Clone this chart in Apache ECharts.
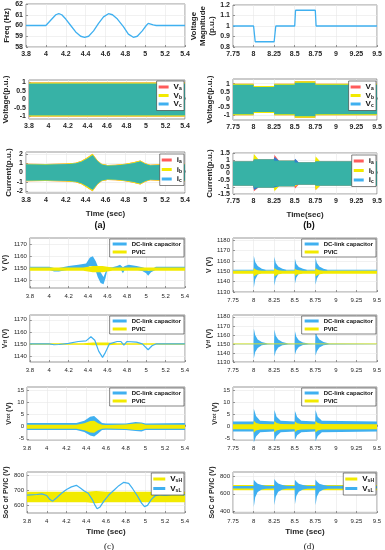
<!DOCTYPE html>
<html><head><meta charset="utf-8">
<script src="https://cdn.jsdelivr.net/npm/echarts@6/dist/echarts.min.js"></script>
<style>html,body{margin:0;padding:0;background:#fff}#c{width:385px;height:550px}</style>
</head><body><div id="c"></div><script>
// ---------- tick labels ----------
const A_X = [3.8, 4, 4.2, 4.4, 4.6, 4.8, 5, 5.2, 5.4];
const B_X = [7.75, 8, 8.25, 8.5, 8.75, 9, 9.25, 9.5];
const Y_FREQ = [58, 59, 60, 61, 62];
const Y_VMAG = [0.8, 0.9, 1, 1.1, 1.2];
const Y_VPU = [-1, -0.5, 0, 0.5, 1];
const Y_IA = [-2, -1, 0, 1, 2];
const Y_IB = [-1.5, -1, -0.5, 0, 0.5, 1, 1.5];
const Y_VC = [1140, 1150, 1160, 1170];
const Y_VD = [1130, 1140, 1150, 1160, 1170, 1180];
const Y_VTOT = [-5, 0, 5, 10, 15];
const Y_SOC_C = [600, 700, 800];
const Y_SOC_D = [400, 600, 800];

// ---------- (a) frequency ----------
const freqT = [3.8, 4.0, 4.02, 4.06, 4.1, 4.13, 4.16, 4.2, 4.25, 4.3, 4.35, 4.39, 4.43, 4.48, 4.53, 4.58, 4.63, 4.67, 4.72, 4.78, 4.83, 4.88, 4.92, 4.97, 5.01, 5.03, 5.05, 5.08, 5.11, 5.4];
const freqV = [60, 60, 60.1, 60.6, 61.0, 61.1, 61.0, 60.6, 60.0, 59.4, 59.0, 58.9, 59.0, 59.5, 60.2, 60.8, 61.1, 61.0, 60.6, 59.9, 59.2, 58.9, 59.0, 59.5, 60.0, 60.2, 60.15, 60.05, 60.0, 60.0];
// (a) three-phase voltage envelope
const vaT = [3.8, 5.4];
const vaUp = [1.0, 1.0];
const vaLo = [-1.0, -1.0];
const vaMixUp = [0.93, 0.93];
const vaMixLo = [-0.93, -0.93];
// (a) three-phase current envelope
const iaT = [3.8, 4.0, 4.2, 4.3, 4.36, 4.42, 4.47, 4.52, 4.56, 4.62, 4.7, 4.8, 4.88, 4.95, 5.0, 5.05, 5.2, 5.4];
const iaUp = [0.93, 0.92, 0.97, 1.05, 1.25, 1.65, 2.0, 1.3, 0.95, 0.8, 0.82, 0.95, 1.1, 1.28, 1.0, 0.83, 0.9, 0.95];
const iaLo = [-0.93, -0.92, -0.97, -1.05, -1.25, -1.65, -2.0, -1.3, -0.95, -0.8, -0.82, -0.95, -1.1, -1.28, -1.0, -0.83, -0.9, -0.95];
const iaMixUp = [0.85, 0.84, 0.89, 0.97, 1.15, 1.5, 1.85, 1.2, 0.87, 0.73, 0.75, 0.87, 1.0, 1.17, 0.92, 0.76, 0.82, 0.87];
const iaMixLo = [-0.85, -0.84, -0.89, -0.97, -1.15, -1.5, -1.85, -1.2, -0.87, -0.73, -0.75, -0.87, -1.0, -1.17, -0.92, -0.76, -0.82, -0.87];

// ---------- (b) voltage magnitude ----------
const vmagT = [7.75, 8.0, 8.02, 8.25, 8.27, 8.5, 8.51, 8.75, 8.76, 9.5];
const vmagV = [1.0, 1.0, 0.85, 0.85, 1.0, 1.0, 1.15, 1.15, 1.0, 1.0];
// (b) three-phase voltage envelope
const vbT = [7.75, 8.0, 8.001, 8.25, 8.251, 8.5, 8.501, 8.75, 8.751, 9.5];
const vbUp = [1.0, 1.0, 0.85, 0.85, 1.0, 1.0, 1.15, 1.15, 1.0, 1.0];
const vbLo = [-1.0, -1.0, -0.85, -0.85, -1.0, -1.0, -1.15, -1.15, -1.0, -1.0];
const vbMixUp = [0.93, 0.93, 0.79, 0.79, 0.93, 0.93, 1.07, 1.07, 0.93, 0.93];
const vbMixLo = [-0.93, -0.93, -0.79, -0.79, -0.93, -0.93, -1.07, -1.07, -0.93, -0.93];
// (b) three-phase current envelope (body) and phase spikes
const ibT = [7.75, 8.0, 8.001, 8.25, 8.251, 8.5, 8.501, 8.75, 8.751, 9.5];
const ibUp = [0.88, 0.88, 1.02, 1.02, 0.93, 0.93, 0.8, 0.8, 0.88, 0.88];
const ibLo = [-0.88, -0.88, -1.02, -1.02, -0.93, -0.93, -0.8, -0.8, -0.88, -0.88];
const ibaT = [7.75, 7.995, 8.005, 8.06, 8.245, 8.255, 8.31, 8.495, 8.505, 8.55, 8.745, 8.755, 8.81, 9.5];
const ibaUp = [0.88, 0.88, 1.02, 1.02, 1.02, 1.35, 0.93, 0.93, 1.05, 0.8, 0.8, 0.95, 0.88, 0.88];
const ibaLo = [-0.88, -0.88, -1.3, -1.02, -1.02, -1.02, -0.93, -0.93, -1.1, -0.8, -0.8, -1.2, -0.88, -0.88];
const ibbT = [7.75, 7.995, 8.005, 8.06, 8.245, 8.255, 8.31, 8.495, 8.505, 8.55, 8.745, 8.755, 8.81, 9.5];
const ibbUp = [0.88, 0.88, 1.42, 1.02, 1.02, 1.1, 0.93, 0.93, 0.93, 0.8, 0.8, 1.25, 0.88, 0.88];
const ibbLo = [-0.88, -0.88, -1.02, -1.02, -1.02, -1.3, -0.93, -0.93, -0.93, -0.8, -0.8, -1.2, -0.88, -0.88];
const ibcT = [7.75, 7.995, 8.005, 8.06, 8.245, 8.255, 8.31, 8.495, 8.505, 8.55, 8.745, 8.755, 8.81, 9.5];
const ibcUp = [0.88, 0.88, 1.02, 1.02, 1.02, 1.2, 0.93, 0.93, 1.08, 0.8, 0.8, 0.88, 0.88, 0.88];
const ibcLo = [-0.88, -0.88, -1.2, -1.02, -1.02, -1.02, -0.93, -0.93, -0.85, -0.8, -0.8, -0.88, -0.88, -0.88];

// ---------- (c) DC-link voltage V ----------
const c1T = [3.8, 4.0, 4.05, 4.1, 4.2, 4.3, 4.38, 4.42, 4.45, 4.48, 4.5, 4.53, 4.56, 4.58, 4.6, 4.65, 4.7, 4.73, 4.76, 4.78, 4.82, 4.9, 4.96, 5.0, 5.02, 5.05, 5.1, 5.4];
const c1BlueUp = [1151.5, 1151.5, 1150.5, 1150.5, 1152, 1153, 1154, 1159, 1160, 1156, 1152, 1147, 1143, 1147, 1151, 1151, 1152, 1153, 1151, 1152, 1153, 1152, 1151, 1150, 1148, 1149, 1151.5, 1151.5];
const c1BlueLo = [1149, 1149, 1147.5, 1147.5, 1149, 1150, 1150, 1152, 1152, 1148, 1143, 1138, 1137, 1142, 1149, 1149, 1149.5, 1150, 1146, 1149, 1150, 1149, 1148, 1146, 1144, 1147, 1149, 1149];
const c1YelT = [3.8, 4.35, 4.45, 4.55, 4.65, 5.4];
const c1YelUp = [1150.8, 1150.8, 1152, 1152, 1150.8, 1150.8];
const c1YelLo = [1148.2, 1148.2, 1147, 1147, 1148.2, 1148.2];
// (c) V_tf
const c2T = [3.8, 4.0, 4.05, 4.1, 4.2, 4.3, 4.38, 4.43, 4.47, 4.51, 4.55, 4.58, 4.62, 4.7, 4.74, 4.77, 4.8, 4.9, 4.96, 5.02, 5.06, 5.1, 5.4];
const c2Blue = [1150, 1150, 1149.3, 1149.5, 1150.5, 1152, 1152.5, 1156, 1153, 1144, 1138.8, 1143, 1150, 1152, 1152, 1149, 1152, 1151.5, 1150, 1145.2, 1148.5, 1150, 1150];
const c2YelT = [3.8, 4.35, 4.45, 4.6, 4.7, 5.4];
const c2YelUp = [1150.6, 1150.6, 1151.2, 1151.2, 1150.6, 1150.6];
const c2YelLo = [1149.4, 1149.4, 1148.8, 1148.8, 1149.4, 1149.4];
// (c) V_tot
const c3T = [3.8, 4.3, 4.38, 4.44, 4.48, 4.52, 4.56, 4.6, 4.8, 4.9, 4.96, 5.0, 5.4];
const c3BlueUp = [1.6, 1.6, 2.5, 4.2, 4.5, 3.0, 1.6, 1.3, 1.4, 2.0, 1.8, 1.4, 1.6];
const c3BlueLo = [-1.4, -1.4, -2.2, -3.6, -4.0, -2.8, -1.4, -1.2, -1.4, -1.8, -2.0, -1.3, -1.4];
const c3YelUp = [0.8, 0.8, 1.5, 2.4, 2.5, 1.5, 0.8, 0.7, 0.9, 1.3, 1.3, 0.8, 0.8];
const c3YelLo = [-0.8, -0.8, -1.5, -2.4, -2.5, -1.5, -0.8, -0.7, -0.9, -1.3, -1.3, -0.8, -0.8];
// (c) SoC of PVIC
const c4YelT = [3.8, 4.4, 4.5, 4.6, 5.4];
const c4YelUp = [690, 690, 695, 690, 690];
const c4YelLo = [620, 620, 615, 620, 620];
const c4T = [3.8, 3.9, 3.95, 4.0, 4.03, 4.06, 4.1, 4.15, 4.2, 4.25, 4.3, 4.34, 4.38, 4.42, 4.46, 4.49, 4.51, 4.54, 4.58, 4.63, 4.68, 4.73, 4.78, 4.8, 4.83, 4.87, 4.92, 4.96, 4.99, 5.02, 5.06, 5.1, 5.15, 5.2, 5.3, 5.4];
const c4Blue = [668, 672, 676, 665, 640, 628, 650, 680, 705, 722, 732, 715, 695, 680, 640, 600, 578, 590, 630, 670, 700, 730, 752, 757, 745, 710, 660, 615, 592, 600, 640, 665, 670, 668, 672, 670];

// ---------- (d) DC-link voltage V ----------
const d1T = [7.75, 7.999, 8.003, 8.02, 8.05, 8.1, 8.15, 8.249, 8.253, 8.27, 8.3, 8.35, 8.4, 8.499, 8.503, 8.52, 8.55, 8.6, 8.65, 8.749, 8.753, 8.77, 8.8, 8.85, 8.9, 9.5];
const d1BlueUp = [1151.5, 1151.5, 1165, 1159, 1155, 1152.5, 1151.5, 1151.5, 1164, 1158, 1154.5, 1152.5, 1151.5, 1151.5, 1162, 1157, 1154, 1152.5, 1151.5, 1151.5, 1163, 1158, 1154.5, 1152.5, 1151.5, 1151.5];
const d1BlueLo = [1150.5, 1150.5, 1134, 1142, 1146.5, 1149, 1150.5, 1150.5, 1136, 1143, 1147, 1149, 1150.5, 1150.5, 1138, 1144, 1147.5, 1149, 1150.5, 1150.5, 1137, 1143, 1147, 1149, 1150.5, 1150.5];
const d1YelUp = [1150.5, 1150.5, 1153, 1152, 1151, 1150.5, 1150.5, 1150.5, 1153, 1152, 1151, 1150.5, 1150.5, 1150.5, 1152.5, 1151.5, 1151, 1150.5, 1150.5, 1150.5, 1153, 1152, 1151, 1150.5, 1150.5, 1150.5];
const d1YelLo = [1147.5, 1147.5, 1145, 1146, 1147, 1147.5, 1147.5, 1147.5, 1145, 1146, 1147, 1147.5, 1147.5, 1147.5, 1145.5, 1146.5, 1147, 1147.5, 1147.5, 1147.5, 1145, 1146, 1147, 1147.5, 1147.5, 1147.5];
// (d) V_tf
const d2T = [7.75, 7.999, 8.003, 8.02, 8.05, 8.1, 8.17, 8.249, 8.253, 8.27, 8.3, 8.35, 8.42, 8.499, 8.503, 8.52, 8.55, 8.6, 8.67, 8.749, 8.753, 8.77, 8.8, 8.85, 8.92, 9.5];
const d2BlueUp = [1150.3, 1150.3, 1167, 1160, 1155, 1152, 1150.5, 1150.3, 1166, 1159, 1155, 1152, 1150.5, 1150.3, 1164, 1158, 1154, 1151.5, 1150.5, 1150.3, 1165, 1159, 1155, 1152, 1150.5, 1150.3];
const d2BlueLo = [1149.7, 1149.7, 1134, 1141, 1145.5, 1148.5, 1149.5, 1149.7, 1136, 1142, 1146, 1148.5, 1149.5, 1149.7, 1138, 1143, 1146.5, 1148.8, 1149.5, 1149.7, 1137, 1142, 1146, 1148.5, 1149.5, 1149.7];
const d2YelT = [7.75, 9.5];
const d2YelUp = [1150.4, 1150.4];
const d2YelLo = [1149.6, 1149.6];
// (d) V_tot
const d3T = [7.75, 7.999, 8.003, 8.03, 8.08, 8.249, 8.253, 8.28, 8.33, 8.499, 8.503, 8.53, 8.58, 8.749, 8.753, 8.78, 8.83, 9.5];
const d3BlueUp = [2.2, 2.2, 7.5, 4.5, 2.5, 2.2, 7.0, 4.2, 2.5, 2.2, 6.5, 4.0, 2.5, 2.2, 7.0, 4.2, 2.5, 2.2];
const d3BlueLo = [-2.0, -2.0, -6.5, -4.0, -2.3, -2.0, -6.0, -3.8, -2.3, -2.0, -5.5, -3.5, -2.3, -2.0, -6.0, -3.8, -2.3, -2.0];
const d3YelUp = [1.0, 1.0, 2.5, 1.6, 1.1, 1.0, 2.4, 1.6, 1.1, 1.0, 2.2, 1.5, 1.1, 1.0, 2.4, 1.6, 1.1, 1.0];
const d3YelLo = [-1.0, -1.0, -2.5, -1.6, -1.1, -1.0, -2.4, -1.6, -1.1, -1.0, -2.2, -1.5, -1.1, -1.0, -2.4, -1.6, -1.1, -1.0];
// (d) SoC of PVIC
const d4YelT = [7.75, 9.5];
const d4YelUp = [700, 700];
const d4YelLo = [640, 640];
const d4T = [7.75, 7.999, 8.003, 8.02, 8.05, 8.1, 8.15, 8.249, 8.253, 8.27, 8.3, 8.35, 8.4, 8.499, 8.503, 8.52, 8.55, 8.6, 8.65, 8.749, 8.753, 8.77, 8.8, 8.85, 8.9, 9.5];
const d4BlueUp = [690, 690, 760, 740, 715, 700, 692, 690, 770, 745, 718, 700, 692, 690, 760, 740, 715, 700, 692, 690, 765, 742, 716, 700, 692, 690];
const d4BlueLo = [660, 660, 450, 560, 620, 648, 658, 660, 470, 570, 625, 650, 658, 660, 480, 575, 625, 650, 658, 660, 470, 570, 625, 650, 658, 660];

// ---------- styles ----------
const BLUE = '#3fb0f0';
const YEL = '#f2ea00';
const RED = '#ff5b5b';
const MIX = '#37b2a6';
const FONT = 'Liberation Sans, Arial, sans-serif';

const grids = [], xAxes = [], yAxes = [], series = [], legends = [];

function panel(o) {
  const i = grids.length;
  grids.push({left: o.l, top: o.t, width: o.w, height: o.h, show: true,
    borderColor: '#6a6a6a', borderWidth: 0.7, backgroundColor: '#fff'});
  const fs = o.fs || 7, fw = o.fw || 'normal';
  xAxes.push({type: 'value', gridIndex: i, min: o.xt[0], max: o.xt[o.xt.length - 1],
    axisLine: {show: false},
    axisTick: {show: true, inside: true, length: 2, customValues: o.xt, lineStyle: {color: '#555', width: 0.6}},
    axisLabel: {customValues: o.xt, fontSize: fs, fontWeight: fw, color: '#262626', margin: o.xm || 4, fontFamily: FONT,
      formatter: v => String(+v.toFixed(2))},
    splitLine: {show: true, lineStyle: {color: '#e8e8e8', width: 0.6}},
    name: o.xname || '', nameLocation: 'middle', nameGap: o.xng || 16,
    nameTextStyle: {fontSize: 8, fontWeight: 'bold', color: '#262626', fontFamily: FONT}});
  yAxes.push({type: 'value', gridIndex: i, min: o.ymin, max: o.ymax,
    axisLine: {show: false},
    axisTick: {show: true, inside: true, length: 2, customValues: o.yt, lineStyle: {color: '#555', width: 0.6}},
    axisLabel: {customValues: o.yt, fontSize: fs, fontWeight: fw, color: '#262626', margin: 3, fontFamily: FONT,
      formatter: v => String(+v.toFixed(2))},
    splitLine: {show: true, lineStyle: {color: '#e8e8e8', width: 0.6}},
    name: o.yname, nameLocation: 'middle', nameGap: o.yng, nameRotate: 90,
    nameTextStyle: Object.assign({fontSize: o.yfs || 8, fontWeight: 'bold', color: '#262626', fontFamily: FONT, lineHeight: 9}, o.rich ? {rich: o.rich} : {})});
  return i;
}

function band(gi, name, color, t, up, lo, z, opacity) {
  series.push({type: 'custom', name: name, xAxisIndex: gi, yAxisIndex: gi, z: z || 2,
    data: [[t[0], up[0]]], silent: true, animation: false, itemStyle: {color: color},
    renderItem: function (params, api) {
      const pts = [];
      for (let k = 0; k < t.length; k++) pts.push(api.coord([t[k], up[k]]));
      for (let k = t.length - 1; k >= 0; k--) pts.push(api.coord([t[k], lo[k]]));
      return {type: 'polygon', shape: {points: pts}, style: {fill: color, opacity: opacity == null ? 1 : opacity}};
    }});
}
function line(gi, name, color, t, v, w, z) {
  series.push({type: 'line', name: name, xAxisIndex: gi, yAxisIndex: gi, z: z || 3,
    data: t.map((x, k) => [x, v[k]]), showSymbol: false, animation: false,
    lineStyle: {color: color, width: w || 1.2}, itemStyle: {color: color}});
}
function legend(names, right, top, richNames, fs, w, gap, pad) {
  legends.push({orient: 'vertical', right: right, top: top, z: 30, itemWidth: w || 14, itemHeight: 3, itemGap: gap == null ? 2 : gap,
    padding: pad || [2, 3, 2, 3], backgroundColor: '#fff', borderColor: '#333', borderWidth: 0.6,
    data: names.map(n => ({name: n, icon: 'rect'})),
    selectedMode: false,
    textStyle: {fontSize: fs || 7, fontWeight: 'bold', color: '#111', fontFamily: FONT,
      rich: {m: {fontSize: 8, fontWeight: 'bold', color: '#111'}, s: {fontSize: 5, fontWeight: 'bold', verticalAlign: 'bottom', padding: [4, 0, 0, 0], color: '#111'}}},
    formatter: richNames ? (n => richNames[n]) : undefined});
}

const subRich = {b: {fontSize: 7, fontWeight: 'bold', color: '#262626'}, s: {fontSize: 5, fontWeight: 'bold', color: '#262626', padding: [0, 0, 0, 0]}};
const VN = {Va: '{m|V}{s|a}', Vb: '{m|V}{s|b}', Vc: '{m|V}{s|c}'};
const IN = {ia: '{m|i}{s|a}', ib: '{m|i}{s|b}', ic: '{m|i}{s|c}'};
const SN = {VsH: '{m|V}{s|sH}', VsL: '{m|V}{s|sL}'};

// ---- (a) ----
const a1 = panel({l: 26, t: 4, w: 159, h: 43, xt: A_X, yt: Y_FREQ, ymin: 58, ymax: 62, yname: 'Freq (Hz)', yng: 12, fw: 'bold'});
line(a1, 'freq', BLUE, freqT, freqV, 1.3);
const a2 = panel({l: 26, t: 80, w: 159, h: 39, xt: A_X, yt: Y_VPU, ymin: -1.15, ymax: 1.15, yname: 'Voltage(p.u.)', yng: 15, fw: 'bold'});
band(a2, 'Va', RED, vaT, vaUp, vaLo, 1);
band(a2, 'Vb', YEL, vaT, vaUp, vaLo, 2);
band(a2, 'Vc', BLUE, vaT, vaMixUp, vaMixLo, 3);
band(a2, 'mixA', MIX, vaT, vaMixUp, vaMixLo, 4);
legend(['Va', 'Vb', 'Vc'], 201, 81, VN, 7, 10, 0, [2, 2, 2, 2]);
const a3 = panel({l: 26, t: 152, w: 159, h: 41, xt: A_X, yt: Y_IA, ymin: -2.2, ymax: 2.2, yname: 'Current(p.u.)', yng: 13, fw: 'bold', xname: 'Time (sec)', xng: 17});
band(a3, 'ia', RED, iaT, iaUp, iaLo, 1);
band(a3, 'ib', YEL, iaT, iaUp, iaLo, 2);
band(a3, 'ic', BLUE, iaT, iaMixUp, iaMixLo, 3);
band(a3, 'mixI', MIX, iaT, iaMixUp, iaMixLo, 4);
legend(['ia', 'ib', 'ic'], 201, 154, IN, 7, 10, 1, [2, 2, 2, 2]);

// ---- (b) ----
const b1 = panel({l: 233, t: 5, w: 144, h: 42, xt: B_X, yt: Y_VMAG, ymin: 0.8, ymax: 1.2, yname: 'Voltage\nMagnitude\n(p.u.)', yng: 14, fw: 'bold'});
line(b1, 'vmag', BLUE, vmagT, vmagV, 1.3);
const b2 = panel({l: 233, t: 79, w: 144, h: 41, xt: B_X, yt: Y_VPU, ymin: -1.3, ymax: 1.3, yname: 'Voltage(p.u.)', yng: 16, fw: 'bold'});
band(b2, 'Va', RED, vbT, vbUp, vbLo, 1);
band(b2, 'Vb', YEL, vbT, vbUp, vbLo, 2);
band(b2, 'mixB', MIX, vbT, vbMixUp, vbMixLo, 4);
legend(['Va', 'Vb', 'Vc'], 9, 81, VN, 7, 10, 0, [2, 2, 2, 2]);
const b3 = panel({l: 233, t: 153, w: 144, h: 41, xt: B_X, yt: Y_IB, ymin: -1.5, ymax: 1.5, yname: 'Current(p.u.)', yng: 16, fw: 'bold', xname: 'Time(sec)', xng: 17});
band(b3, 'ia', RED, ibaT, ibaUp, ibaLo, 1);
band(b3, 'ib', YEL, ibbT, ibbUp, ibbLo, 2);
band(b3, 'ic', '#2f7fd0', ibcT, ibcUp, ibcLo, 3);
band(b3, 'mixIb', MIX, ibT, ibUp, ibLo, 4);
legend(['ia', 'ib', 'ic'], 9, 155, IN, 7, 10, 1, [2, 2, 2, 2]);

// ---- (c) ----
const c1 = panel({l: 27, t: 238, w: 158, h: 50, xt: A_X, yt: Y_VC, ymin: 1134, ymax: 1175, yname: 'V (V)', yng: 17, fs: 6, yfs: 7, xm: 5});
band(c1, 'DC-link capacitor', BLUE, c1T, c1BlueUp, c1BlueLo, 2);
band(c1, 'PVIC', YEL, c1YelT, c1YelUp, c1YelLo, 3);
legend(['DC-link capacitor', 'PVIC'], 201, 239, null, 6, 14, 2, [2, 3, 2, 3]);
const c2 = panel({l: 27, t: 315, w: 158, h: 47, xt: A_X, yt: Y_VC, ymin: 1135, ymax: 1174, yname: '{b|V}{s|tf}{b| (V)}', rich: subRich, yng: 17, fs: 6, yfs: 7, xm: 5});
band(c2, 'PVIC', YEL, c2YelT, c2YelUp, c2YelLo, 2);
line(c2, 'DC-link capacitor', BLUE, c2T, c2Blue, 1.2, 3);
legend(['DC-link capacitor', 'PVIC'], 201, 316, null, 6, 14, 2, [2, 3, 2, 3]);
const c3 = panel({l: 27, t: 387, w: 158, h: 53, xt: A_X, yt: Y_VTOT, ymin: -5.5, ymax: 16.5, yname: '{b|V}{s|tot}{b| (V)}', rich: subRich, yng: 12, fs: 6, yfs: 7, xm: 5});
band(c3, 'DC-link capacitor', BLUE, c3T, c3BlueUp, c3BlueLo, 2);
band(c3, 'PVIC', YEL, c3T, c3YelUp, c3YelLo, 3);
legend(['DC-link capacitor', 'PVIC'], 201, 388, null, 6, 14, 2, [2, 3, 2, 3]);
const c4 = panel({l: 27, t: 472, w: 158, h: 41, xt: A_X, yt: Y_SOC_C, ymin: 550, ymax: 820, yname: 'SoC of PVIC (V)', yng: 16, fs: 6, yfs: 7, xm: 5, xname: 'Time (sec)', xng: 15});
band(c4, 'VsH', YEL, c4YelT, c4YelUp, c4YelLo, 2);
line(c4, 'VsL', BLUE, c4T, c4Blue, 1.2, 3);
legend(['VsH', 'VsL'], 201, 473, SN, 6, 12, 1, [2, 2, 2, 2]);

// ---- (d) ----
const d1 = panel({l: 233, t: 238, w: 144, h: 54, xt: B_X, yt: Y_VD, ymin: 1130, ymax: 1182, yname: 'V (V)', yng: 17, fs: 6, yfs: 7, xm: 5});
band(d1, 'DC-link capacitor', BLUE, d1T, d1BlueUp, d1BlueLo, 2);
band(d1, 'PVIC', YEL, d1T, d1YelUp, d1YelLo, 3);
legend(['DC-link capacitor', 'PVIC'], 9, 239, null, 6, 14, 2, [2, 3, 2, 3]);
const d2 = panel({l: 233, t: 315, w: 144, h: 47, xt: B_X, yt: Y_VD, ymin: 1130, ymax: 1182, yname: '{b|V}{s|tf}{b| (V)}', rich: subRich, yng: 17, fs: 6, yfs: 7, xm: 5});
band(d2, 'DC-link capacitor', BLUE, d2T, d2BlueUp, d2BlueLo, 2);
band(d2, 'PVIC', YEL, d2YelT, d2YelUp, d2YelLo, 3);
legend(['DC-link capacitor', 'PVIC'], 9, 316, null, 6, 14, 2, [2, 3, 2, 3]);
const d3 = panel({l: 233, t: 387, w: 144, h: 53, xt: B_X, yt: Y_VTOT, ymin: -5.5, ymax: 16.5, yname: '{b|V}{s|tot}{b| (V)}', rich: subRich, yng: 12, fs: 6, yfs: 7, xm: 5});
band(d3, 'DC-link capacitor', BLUE, d3T, d3BlueUp, d3BlueLo, 2);
band(d3, 'PVIC', YEL, d3T, d3YelUp, d3YelLo, 3);
legend(['DC-link capacitor', 'PVIC'], 9, 388, null, 6, 14, 2, [2, 3, 2, 3]);
const d4 = panel({l: 233, t: 472, w: 144, h: 41, xt: B_X, yt: Y_SOC_D, ymin: 380, ymax: 850, yname: 'SoC of PVIC (V)', yng: 16, fs: 6, yfs: 7, xm: 5, xname: 'Time (sec)', xng: 15});
band(d4, 'VsH', YEL, d4YelT, d4YelUp, d4YelLo, 2);
band(d4, 'VsL', BLUE, d4T, d4BlueUp, d4BlueLo, 3);
legend(['VsH', 'VsL'], 9, 473, SN, 6, 12, 1, [2, 2, 2, 2]);

const chart = echarts.init(document.getElementById('c'), null, {renderer: 'canvas'});
chart.setOption({
  animation: false,
  backgroundColor: '#fff',
  title: [
    {text: '(a)', left: 95, top: 216, textAlign: 'center', textStyle: {fontSize: 9, fontWeight: 'bold', color: '#111', fontFamily: FONT}},
    {text: '(b)', left: 304, top: 216, textAlign: 'center', textStyle: {fontSize: 9, fontWeight: 'bold', color: '#111', fontFamily: FONT}},
    {text: '(c)', left: 104, top: 537, textAlign: 'center', textStyle: {fontSize: 9, fontWeight: 'normal', color: '#111', fontFamily: 'Liberation Serif, serif'}},
    {text: '(d)', left: 304, top: 537, textAlign: 'center', textStyle: {fontSize: 9, fontWeight: 'normal', color: '#111', fontFamily: 'Liberation Serif, serif'}}
  ],
  grid: grids, xAxis: xAxes, yAxis: yAxes, series: series, legend: legends
});
</script></body></html>
